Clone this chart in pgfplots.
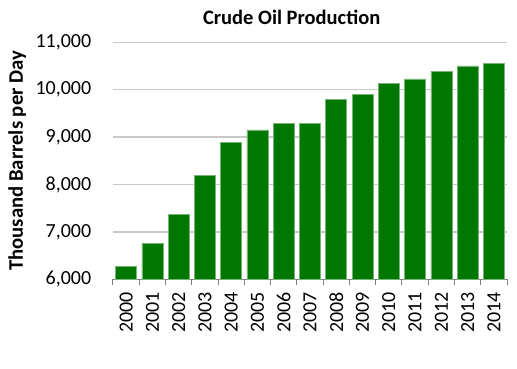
\documentclass[border=0pt]{standalone}
\usepackage{pgfplots}
\pgfplotsset{compat=1.18}
\usepackage{fontspec}
\setmainfont{Carlito}
\definecolor{barg}{RGB}{0,120,0}
\definecolor{baredge}{RGB}{120,180,120}
\definecolor{gridg}{RGB}{200,200,200}
\definecolor{axg}{RGB}{130,130,130}
\begin{document}
\begin{tikzpicture}
\begin{axis}[
  scale only axis,
  width=394pt, height=237pt,
  xmin=-0.5, xmax=14.5,
  ymin=6000, ymax=11000,
  ytick={6000,7000,8000,9000,10000,11000},
  xtick={0,...,14},
  xticklabels={2000,2001,2002,2003,2004,2005,2006,2007,2008,2009,2010,2011,2012,2013,2014},
  minor xtick={-0.5,0.5,...,14.5},
  x tick label style={rotate=90, anchor=east, font=\fontsize{20}{24}\selectfont, yshift=0pt},
  y tick label style={font=\fontsize{20}{24}\selectfont},
  /pgf/number format/assume math mode=true,
  /pgf/number format/1000 sep={,},
  scaled y ticks=false,
  axis x line*=bottom,
  axis y line*=left,
  y axis line style={draw=none},
  x axis line style={draw=axg, line width=1pt, -},
  major x tick style={draw=none},
  major y tick style={draw=none},
  minor x tick style={draw=axg, line width=1pt},
  minor tick length=6pt,
  tick align=outside,
  ymajorgrids,
  grid style={draw=gridg, line width=1.5pt},
  xticklabel shift=5pt,
  yticklabel shift=14pt,
  title={\textbf{Crude Oil Production}},
  title style={font=\fontsize{20.5}{24}\selectfont, at={(rel axis cs:0.4535,1)}, anchor=south, yshift=8pt},
  ylabel={\textbf{Thousand Barrels per Day}},
  ylabel style={font=\fontsize{20.7}{24}\selectfont, at={(rel axis cs:-0.243,0.5)}, anchor=center, rotate=0},
]
\addplot[ybar, bar width=21pt, fill=barg, draw=baredge, line width=0.6pt] coordinates {
(0,6266) (1,6751) (2,7371) (3,8186) (4,8890) (5,9150) (6,9283) (7,9290)
(8,9789) (9,9909) (10,10141) (11,10226) (12,10394) (13,10500) (14,10557)
};
\end{axis}
\pgfresetboundingbox
\path[use as bounding box] (-113pt,-89.7pt) rectangle (404pt,279.3pt);
\end{tikzpicture}
\end{document}
